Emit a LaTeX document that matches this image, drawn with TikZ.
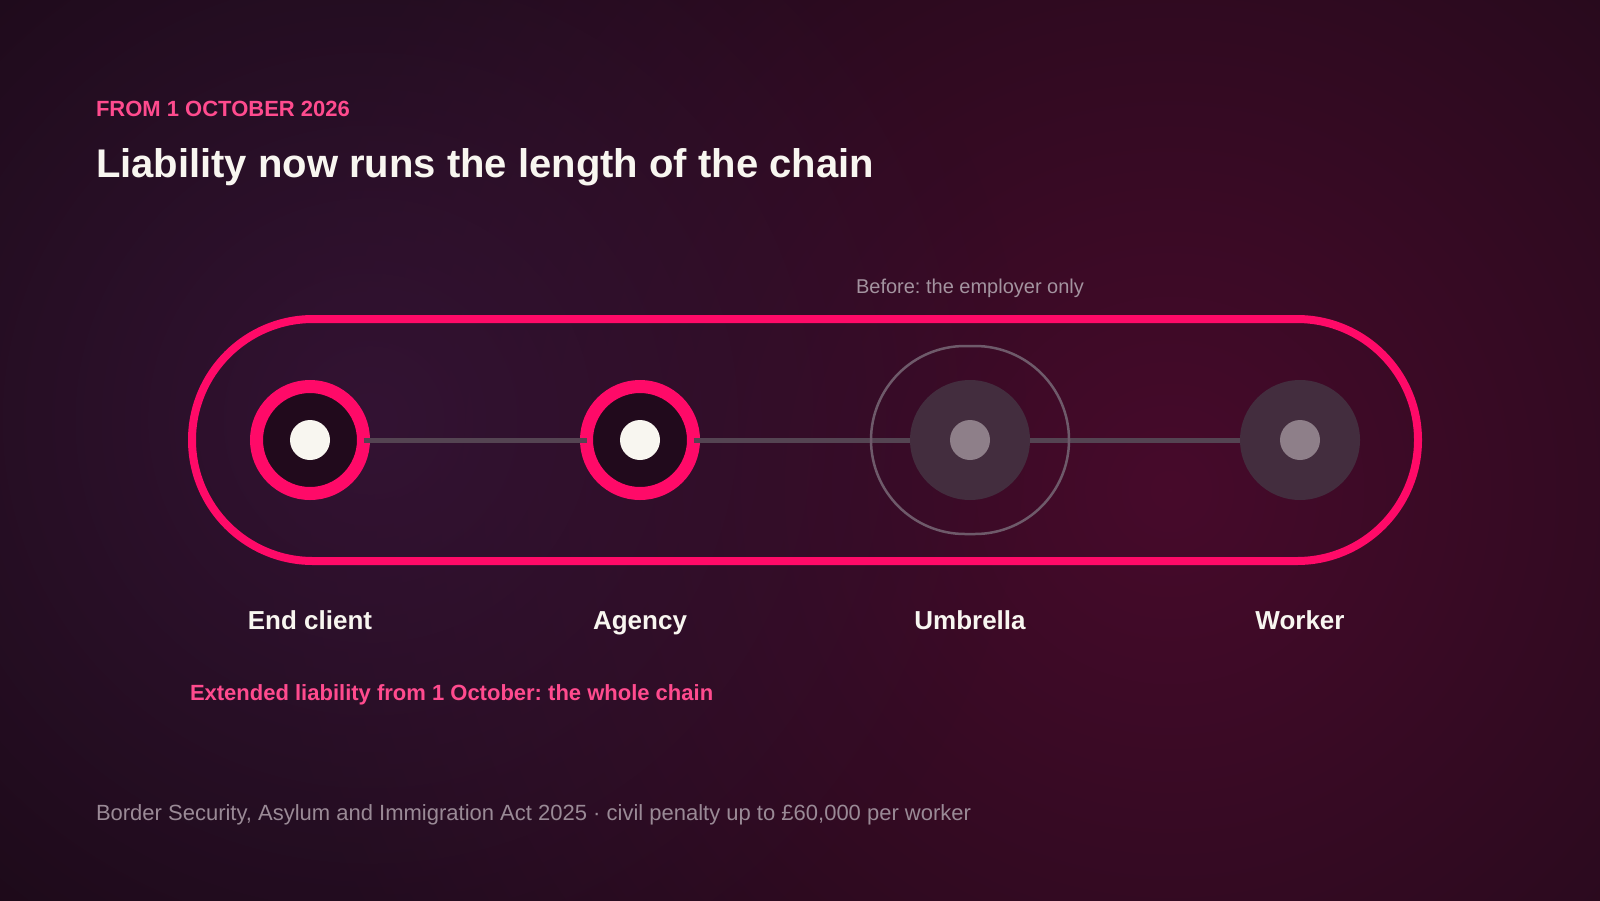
\documentclass[tikz,border=0pt]{standalone}
\usepackage{fontspec}
\setmainfont{Liberation Sans}
\usetikzlibrary{positioning}
\usetikzlibrary{fadings}

\definecolor{bgdark}{HTML}{1C0A18}
\definecolor{glowpurple}{HTML}{331333}
\definecolor{glowred}{HTML}{470A2B}
\definecolor{hotpink}{HTML}{FF0A68}
\definecolor{softpink}{HTML}{FF4B8E}
\definecolor{holedark}{HTML}{210A1C}
\definecolor{dotwhite}{HTML}{F8F6F0}
\definecolor{mutedfill}{HTML}{432D3E}
\definecolor{muteddot}{HTML}{8E7F89}
\definecolor{ringgrey}{HTML}{6E5A6A}
\definecolor{linkgrey}{HTML}{544452}
\definecolor{textgrey}{HTML}{A3939F}
\definecolor{footgrey}{HTML}{9A8A96}

\tikzfading[name=glowfade, inner color=transparent!0, outer color=transparent!100]

\begin{document}
\frenchspacing
\begin{tikzpicture}[x=1pt, y=-1pt,
    every node/.style={inner sep=0pt, outer sep=0pt},
    partyring/.style={circle, draw=hotpink, line width=13pt, fill=holedark, minimum size=107pt},
    partydot/.style={circle, fill=dotwhite, minimum size=40pt},
    oldring/.style={circle, fill=mutedfill, minimum size=120pt},
    olddot/.style={circle, fill=muteddot, minimum size=40pt},
    chainbox/.style={rectangle, draw=hotpink, line width=8pt, rounded corners=121pt,
                     minimum width=1226pt, minimum height=242pt},
    employerbox/.style={rectangle, draw=ringgrey, line width=2.5pt, rounded corners=94pt,
                        minimum width=198pt, minimum height=188pt},
    link/.style={draw=linkgrey, line width=5pt},
    partylabel/.style={anchor=base, text=dotwhite, font=\fontsize{26}{30}\selectfont\bfseries}]

            % Fondo
            \useasboundingbox (0,0) rectangle (1600,900);
            \begin{scope}
            \clip (0,0) rectangle (1600,900);
            \fill[bgdark] (-5,-5) rectangle (1605,905);
            \fill[glowred, path fading=glowfade] (1170,490) circle[radius=920];
            \fill[glowpurple, path fading=glowfade] (370,420) circle[radius=660];
            \end{scope}

            % Titulos
            \node[anchor=base west, text=softpink, font=\fontsize{22}{26}\selectfont\bfseries] (kicker) at (96,116) {FROM 1 OCTOBER 2026};
            \node[anchor=base west, text=dotwhite, font=\fontsize{40}{48}\selectfont\bfseries] (title) at (96,177) {Liability now runs the length of the chain};

            % Cadena
            \node[chainbox] (chain) at (805,440) {};
            \node[partyring] (client) at (310,440) {};
            \node[partyring] (agency) at (640,440) {};
            \node[oldring] (umbrella) at (970,440) {};
            \node[oldring] (worker) at (1300,440) {};
            \node[partydot] (clientdot) at (client) {};
            \node[partydot] (agencydot) at (agency) {};
            \node[olddot] (umbrelladot) at (umbrella) {};
            \node[olddot] (workerdot) at (worker) {};

            % Enlaces
            \draw[link] (client) -- (agency);
            \draw[link] (agency) -- (umbrella);
            \draw[link] (umbrella) -- (worker);

            % Antes
            \node[employerbox] (employer) at (umbrella) {};
            \node[anchor=base, text=textgrey, font=\fontsize{20}{24}\selectfont] (before) at (970,293) {Before: the employer only};

            % Etiquetas
            \node[partylabel] (clientlbl) at (310,629) {End client};
            \node[partylabel] (agencylbl) at (640,629) {Agency};
            \node[partylabel] (umbrellalbl) at (970,629) {Umbrella};
            \node[partylabel] (workerlbl) at (1300,629) {Worker};

            \node[anchor=base west, text=softpink, font=\fontsize{22}{26}\selectfont\bfseries] (extended) at (190,700) {Extended liability from 1 October: the whole chain};
            \node[anchor=base west, text=footgrey, font=\fontsize{22}{26}\selectfont] (footer) at (96,820) {Border Security, Asylum and Immigration Act 2025 · civil penalty up to £60,000 per worker};
          \end{tikzpicture}
\end{document}
